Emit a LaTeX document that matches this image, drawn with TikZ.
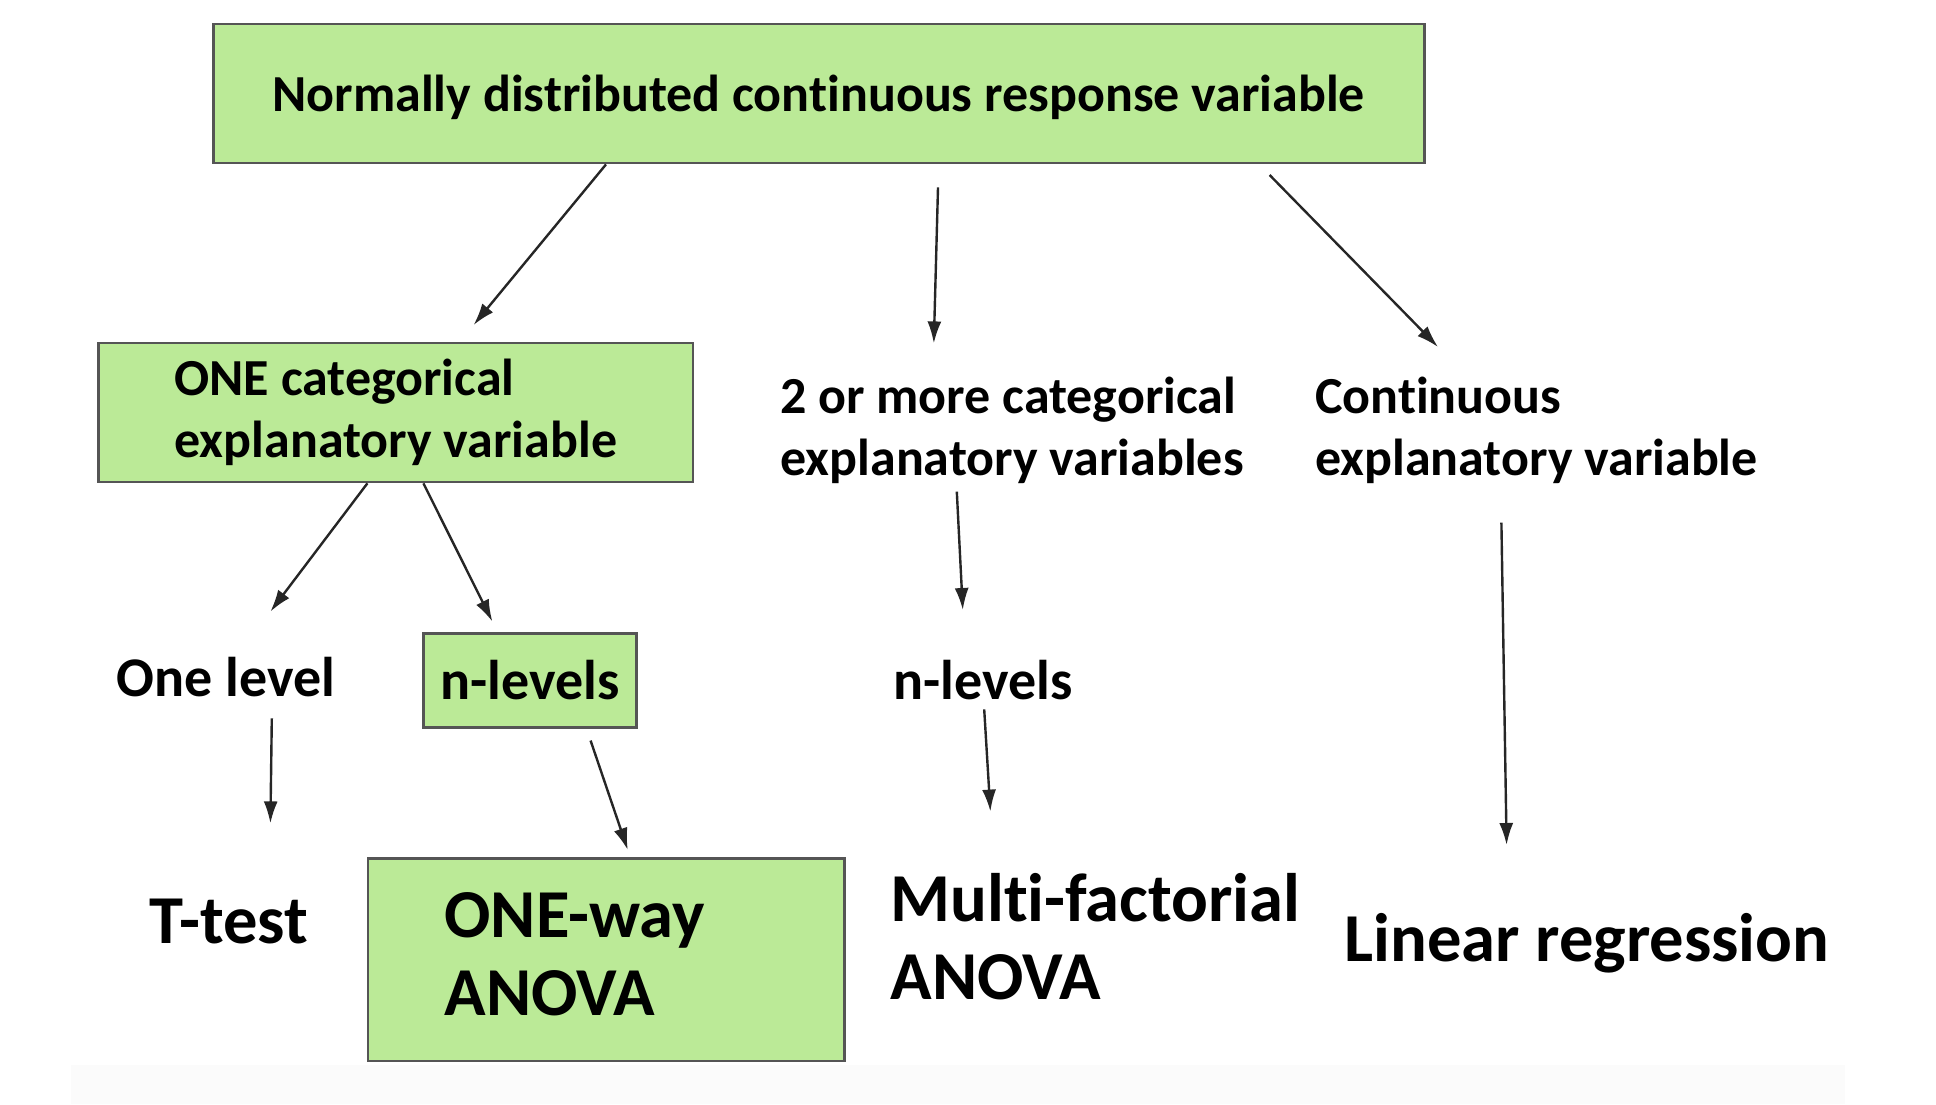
\documentclass[tikz,border=0pt]{standalone}
\usepackage{fontspec}
\setmainfont{Carlito}[Ligatures=NoCommon]
\usetikzlibrary{positioning,arrows.meta}
\definecolor{boxgreen}{RGB}{187,234,151}
\definecolor{boxline}{RGB}{85,85,85}

\begin{document}
\begin{tikzpicture}[on grid,
    green box/.style={draw=boxline,line width=1.4pt,fill=boxgreen,inner sep=0pt},
    two line/.style={font=\bfseries\fontsize{26}{31}\selectfont,align=left},
    lvl text/.style={font=\bfseries\fontsize{28}{34}\selectfont},
    outcome/.style={font=\bfseries\fontsize{34.3}{39}\selectfont,align=left},
    flow/.style={-{Latex[length=11pt,width=7pt]},line width=1.2pt,color=black!85}]
  \useasboundingbox (0,0) rectangle (968pt,-552pt);
  \fill[black!1.5] (35.5pt,-532.5pt) rectangle (922.5pt,-552pt);

  \node[green box,minimum width=605.5pt,minimum height=69.5pt,text depth=0pt,font=\bfseries\fontsize{26}{31}\selectfont] (top) at (409.3pt,-46.75pt) {Normally distributed continuous response variable};
  \node[green box,two line,minimum height=69.5pt,inner xsep=38pt] (one) [below left=159.45pt and 211.4pt of top] {ONE categorical\\explanatory variable};
  \node[two line] (more) [below right=168.55pt and 96.7pt of top] {2 or more categorical\\explanatory variables};
  \node[two line] (cont) [right=262.2pt of more] {Continuous\\explanatory variable};
  \node[lvl text] (onelev) [below left=132.2pt and 84.9pt of one] {One level};
  \node[green box,lvl text,minimum width=106.3pt,minimum height=47.3pt] (nlev) [below right=134pt and 67pt of one] {n-levels};
  \node[lvl text] (nlevm) [below left=124.9pt and 14.5pt of more] {n-levels};
  \node[outcome] (ttest) [below right=122.3pt and 1.5pt of onelev] {T-test};
  \node[green box,outcome,minimum height=101.3pt,text width=161.8pt,inner xsep=38.3pt,text depth=45pt] (oneway) [below right=139.6pt and 38.3pt of nlev] {ONE-way\\ANOVA};
  \node[outcome] (multi) [below right=128.2pt and 56.2pt of nlevm] {Multi-factorial\\ANOVA};
  \node[outcome] (linreg) [below right=256.5pt and 25.3pt of cont] {Linear regression};

  \path[flow]
    ([xshift=-106.3pt]top.south) edge ([xshift=38.9pt,yshift=43.7pt]one.center)
    ([xshift=59.7pt,yshift=-46.95pt]top.center) edge ([xshift=-39.1pt,yshift=43.6pt]more.center)
    ([xshift=225.5pt,yshift=-40.75pt]top.center) edge ([xshift=-49.2pt,yshift=41.8pt]cont.center)
    ([xshift=-14.2pt]one.south) edge ([xshift=22.2pt,yshift=32.6pt]onelev.center)
    ([xshift=13.8pt]one.south) edge ([xshift=-18.7pt,yshift=29.4pt]nlev.center)
    ([xshift=-27.6pt,yshift=-30.5pt]more.center) edge ([xshift=-10.1pt,yshift=35.2pt]nlevm.center)
    ([xshift=-17.5pt,yshift=-46pt]cont.center) edge ([xshift=-40.2pt,yshift=49.3pt]linreg.center)
    ([xshift=22.9pt,yshift=-20.8pt]onelev.center) edge ([xshift=20.7pt,yshift=49pt]ttest.center)
    ([xshift=30.4pt,yshift=-30.1pt]nlev.center) edge ([xshift=10.7pt,yshift=54.8pt]oneway.center)
    ([xshift=0.6pt,yshift=-14.5pt]nlevm.center) edge ([xshift=-52.5pt,yshift=62.6pt]multi.center);

\end{tikzpicture}
\end{document}
